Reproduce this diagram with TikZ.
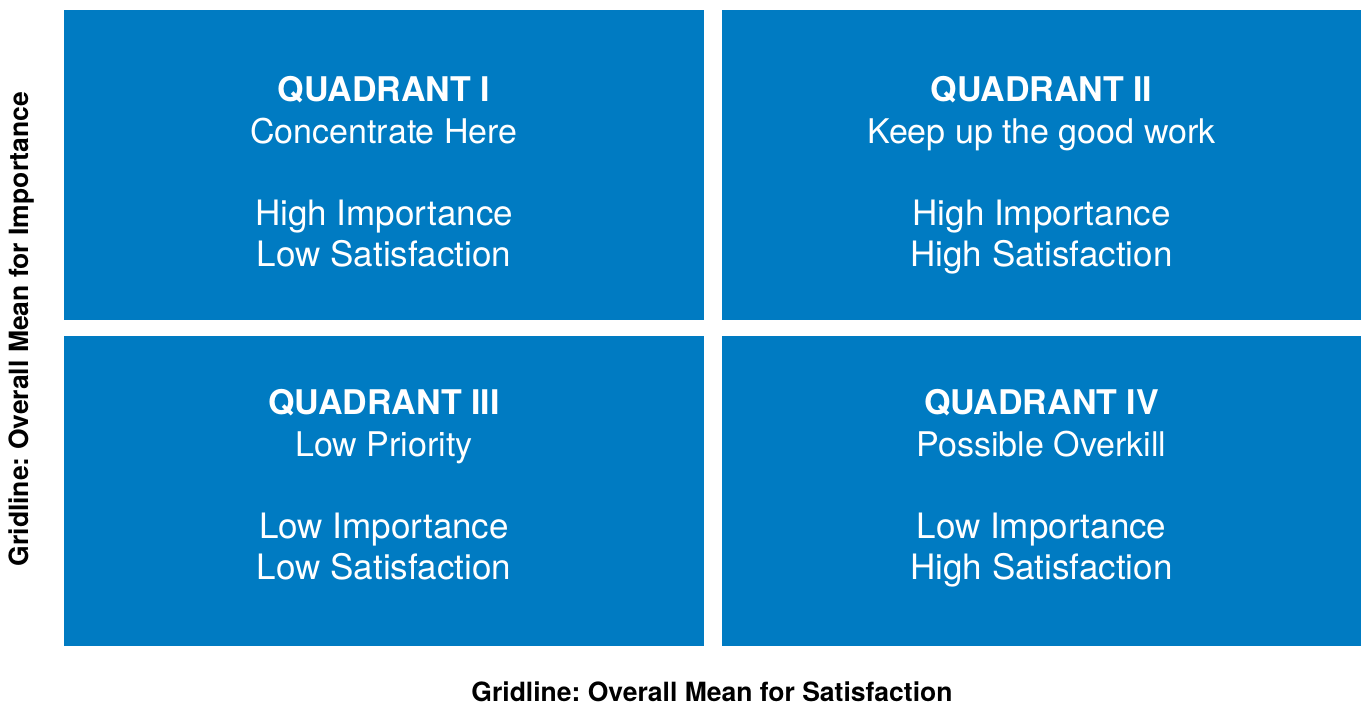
\documentclass[tikz,border=0pt]{standalone}
\usepackage{fontspec}
\setmainfont{TeX Gyre Heros}
\definecolor{quadblue}{RGB}{0,123,194}
\frenchspacing
\begin{document}
\begin{tikzpicture}[x=1pt,y=-1pt,
  quad/.style={fill=quadblue,draw=none,minimum width=640pt,minimum height=310pt,inner sep=0pt},
  qtitle/.style={text=white,anchor=base,font=\fontsize{34}{40}\selectfont\bfseries,inner sep=0pt},
  qsub/.style={text=white,anchor=base,font=\fontsize{34}{40}\selectfont,inner sep=0pt},
  qlight/.style={text=white,anchor=base,font=\fontsize{35}{41}\selectfont,inner sep=0pt},
  axislabel/.style={text=black,font=\fontsize{26.5}{31}\selectfont\bfseries,inner sep=0pt}]
\useasboundingbox (0,0) rectangle (1361,705);
\node[quad] (q1) at (384,165) {};
\node[quad] (q2) at (1041.5,165) {};
\node[quad] (q3) at (384,491) {};
\node[quad] (q4) at (1041.5,491) {};
% Quadrant I
\node[qtitle] (q1t) at (384,101) {QUADRANT I};
\node[qsub] (q1s) at (384,143) {Concentrate Here};
\node[qlight] (q1a) at (384,225) {High Importance};
\node[qlight] (q1b) at (384,266) {Low Satisfaction};
% Quadrant II
\node[qtitle] (q2t) at (1041.5,101) {QUADRANT II};
\node[qsub] (q2s) at (1041.5,143) {Keep up the good work};
\node[qlight] (q2a) at (1041.5,225) {High Importance};
\node[qlight] (q2b) at (1041.5,266) {High Satisfaction};
% Quadrant III
\node[qtitle] (q3t) at (384,414) {QUADRANT III};
\node[qsub] (q3s) at (384,456) {Low Priority};
\node[qlight] (q3a) at (384,538) {Low Importance};
\node[qlight] (q3b) at (384,579) {Low Satisfaction};
% Quadrant IV
\node[qtitle] (q4t) at (1041.5,414) {QUADRANT IV};
\node[qsub] (q4s) at (1041.5,456) {Possible Overkill};
\node[qlight] (q4a) at (1041.5,538) {Low Importance};
\node[qlight] (q4b) at (1041.5,579) {High Satisfaction};
% axis labels
\node[axislabel,rotate=90] (ylab) at (22,329) {Gridline: Overall Mean for Importance};
\node[axislabel] (xlab) at (712,692) {Gridline: Overall Mean for Satisfaction};
\end{tikzpicture}
\end{document}
